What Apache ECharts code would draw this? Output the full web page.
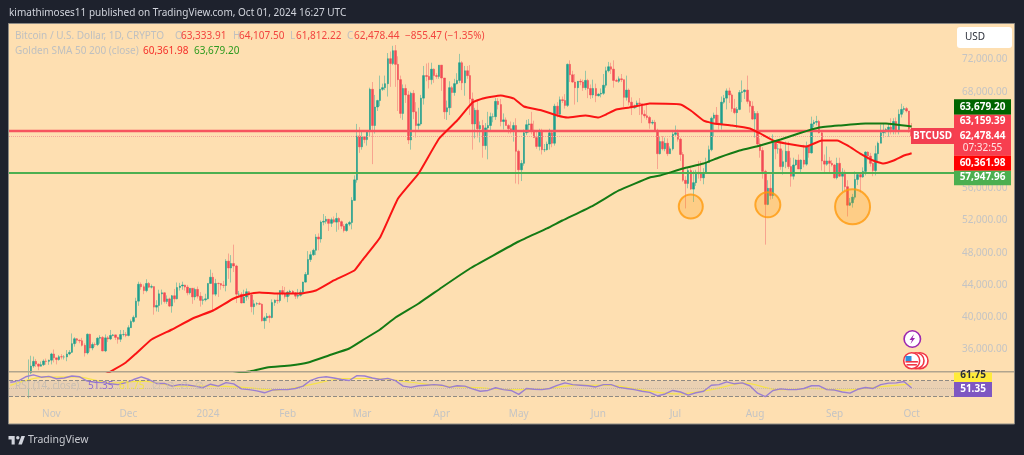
<!DOCTYPE html>
<html>
<head>
<meta charset="utf-8">
<style>
  html, body { margin: 0; background: #1e222d; }
  #chart { width: 1024px; height: 455px; filter: blur(0.35px); }
</style>
<script src="https://cdn.jsdelivr.net/npm/echarts@6/dist/echarts.min.js"></script>
</head>
<body>
<div id="chart"></div>
<script>
// prices are in thousands of USD
const firstDay = '2023-10-16'
const dayCount = 368
const firstCandle = 7 // 2023-10-23, earlier candles sit below the pane

const tickDates = ['2023-11-01', '2023-12-01', '2024-01-01', '2024-02-01', '2024-03-01', '2024-04-01', '2024-05-01', '2024-06-01', '2024-07-01', '2024-08-01', '2024-09-01', '2024-10-01']
const tickNames = ['Nov', 'Dec', '2024', 'Feb', 'Mar', 'Apr', 'May', 'Jun', 'Jul', 'Aug', 'Sep', 'Oct']
const priceTicks = [36, 40, 44, 48, 52, 56, 60, 64, 68, 72]

const opens = [
  29.99, 33.09, 33.92, 34.5, 34.16, 33.9, 34.09, 34.54, 34.5,
  34.65, 35.42, 34.94, 34.73, 35.08, 35.05, 35.05, 35.42, 35.62, 36.7, 37.31, 37.13, 37.06, 36.49, 35.55, 37.87, 36.16, 36.6, 36.58, 37.38, 37.47, 35.8, 37.42, 37.29, 37.72, 37.79, 37.48, 37.25, 37.83, 37.85,
  37.72, 38.69, 39.46, 39.97, 41.98, 44.08, 43.77, 43.29, 44.18, 43.72, 43.79, 41.24, 41.45, 42.89, 43.02, 41.94, 42.26, 41.37, 42.65, 42.27, 43.67, 43.86, 43.99, 43.73, 43.02, 43.58, 42.51, 43.44, 42.6, 42.08, 42.15,
  42.27, 44.18, 44.95, 42.85, 44.18, 44.16, 43.97, 43.93, 46.95, 46.1, 46.65, 46.35, 42.85, 42.85, 41.75, 42.5, 43.15, 42.75, 41.3, 41.65, 41.68, 41.6, 39.55, 39.9, 40.1, 39.95, 41.8, 42.1, 42.05, 43.3, 42.95,
  42.55, 43.1, 43.2, 43.0, 42.6, 42.7, 43.1, 44.35, 45.3, 47.15, 47.75, 48.3, 49.95, 49.7, 51.8, 51.9, 52.15, 51.65, 52.1, 51.8, 52.25, 51.85, 51.3, 50.75, 51.55, 51.75, 54.5, 57.05, 62.5,
  61.15, 62.4, 62.05, 63.15, 68.3, 63.8, 66.1, 66.9, 68.3, 68.5, 69.0, 72.1, 71.5, 73.1, 71.4, 69.5, 65.3, 68.4, 67.6, 62.0, 67.8, 65.5, 63.8, 64.0, 67.2, 70.0, 69.9, 69.5, 70.8, 70.0, 69.9,
  71.3, 69.7, 65.5, 66.0, 68.5, 67.9, 69.0, 69.4, 71.6, 69.1, 70.6, 70.0, 67.1, 64.0, 65.7, 63.4, 63.8, 61.3, 63.5, 63.8, 64.9, 64.9, 66.8, 66.4, 64.3, 64.5, 63.8, 63.4, 63.1, 63.8,
  60.6, 58.3, 59.1, 62.9, 63.9, 64.0, 63.2, 62.3, 61.2, 63.1, 60.8, 60.8, 61.5, 62.9, 61.6, 66.2, 65.2, 67.0, 66.9, 66.3, 71.4, 70.1, 69.2, 68.5, 69.3, 69.2, 68.5, 69.4, 68.4, 67.6, 68.4,
  67.5, 67.7, 67.8, 68.8, 70.6, 71.1, 70.8, 69.4, 69.3, 69.6, 69.5, 67.3, 68.2, 66.7, 66.0, 66.2, 66.6, 66.5, 65.2, 65.0, 64.8, 64.1, 64.2, 63.2, 60.3, 61.8, 60.9, 61.6, 60.3, 60.9,
  62.7, 62.9, 62.1, 60.2, 57.0, 56.6, 58.2, 55.9, 56.7, 58.0, 57.8, 57.3, 57.9, 59.2, 60.8, 64.7, 65.1, 64.1, 63.9, 66.7, 67.2, 68.1, 67.6, 65.9, 65.4, 65.8, 67.9, 68.0, 68.2, 66.8, 66.2,
  64.6, 65.3, 61.5, 60.7, 58.1, 54.0, 56.0, 55.1, 61.7, 60.9, 60.9, 58.7, 59.3, 60.6, 58.7, 57.5, 58.9, 59.5, 58.4, 59.5, 59.0, 61.2, 60.4, 64.0, 64.2, 64.3, 62.9, 59.4, 59.0, 59.4, 59.1,
  58.9, 57.3, 59.1, 57.5, 58.0, 56.2, 53.9, 54.2, 54.9, 57.1, 57.7, 57.4, 58.1, 60.5, 60.0, 59.1, 58.2, 60.3, 61.6, 62.9, 63.2, 63.3, 63.6, 63.3, 64.3, 63.1, 65.2, 65.8, 65.9, 65.6,
  63.33
]
const closes = [
  33.09, 33.92, 34.5, 34.16, 33.9, 34.09, 34.54, 34.5, 34.65,
  35.42, 34.94, 34.73, 35.08, 35.05, 35.05, 35.42, 35.62, 36.7, 37.31, 37.13, 37.06, 36.49, 35.55, 37.87, 36.16, 36.6, 36.58, 37.38, 37.47, 35.8, 37.42, 37.29, 37.72, 37.79, 37.48, 37.25, 37.83, 37.85, 37.72,
  38.69, 39.46, 39.97, 41.98, 44.08, 43.77, 43.29, 44.18, 43.72, 43.79, 41.24, 41.45, 42.89, 43.02, 41.94, 42.26, 41.37, 42.65, 42.27, 43.67, 43.86, 43.99, 43.73, 43.02, 43.58, 42.51, 43.44, 42.6, 42.08, 42.15, 42.27,
  44.18, 44.95, 42.85, 44.18, 44.16, 43.97, 43.93, 46.95, 46.1, 46.65, 46.35, 42.85, 42.85, 41.75, 42.5, 43.15, 42.75, 41.3, 41.65, 41.68, 41.6, 39.55, 39.9, 40.1, 39.95, 41.8, 42.1, 42.05, 43.3, 42.95, 42.55,
  43.1, 43.2, 43.0, 42.6, 42.7, 43.1, 44.35, 45.3, 47.15, 47.75, 48.3, 49.95, 49.7, 51.8, 51.9, 52.15, 51.65, 52.1, 51.8, 52.25, 51.85, 51.3, 50.75, 51.55, 51.75, 54.5, 57.05, 62.5, 61.15,
  62.4, 62.05, 63.15, 68.3, 63.8, 66.1, 66.9, 68.3, 68.5, 69.0, 72.1, 71.5, 73.1, 71.4, 69.5, 65.3, 68.4, 67.6, 62.0, 67.8, 65.5, 63.8, 64.0, 67.2, 70.0, 69.9, 69.5, 70.8, 70.0, 69.9, 71.3,
  69.7, 65.5, 66.0, 68.5, 67.9, 69.0, 69.4, 71.6, 69.1, 70.6, 70.0, 67.1, 64.0, 65.7, 63.4, 63.8, 61.3, 63.5, 63.8, 64.9, 64.9, 66.8, 66.4, 64.3, 64.5, 63.8, 63.4, 63.1, 63.8, 60.6,
  58.3, 59.1, 62.9, 63.9, 64.0, 63.2, 62.3, 61.2, 63.1, 60.8, 60.8, 61.5, 62.9, 61.6, 66.2, 65.2, 67.0, 66.9, 66.3, 71.4, 70.1, 69.2, 68.5, 69.3, 69.2, 68.5, 69.4, 68.4, 67.6, 68.4, 67.5,
  67.7, 67.8, 68.8, 70.6, 71.1, 70.8, 69.4, 69.3, 69.6, 69.5, 67.3, 68.2, 66.7, 66.0, 66.2, 66.6, 66.5, 65.2, 65.0, 64.8, 64.1, 64.2, 63.2, 60.3, 61.8, 60.9, 61.6, 60.3, 60.9, 62.7,
  62.9, 62.1, 60.2, 57.0, 56.6, 58.2, 55.9, 56.7, 58.0, 57.8, 57.3, 57.9, 59.2, 60.8, 64.7, 65.1, 64.1, 63.9, 66.7, 67.2, 68.1, 67.6, 65.9, 65.4, 65.8, 67.9, 68.0, 68.2, 66.8, 66.2, 64.6,
  65.3, 61.5, 60.7, 58.1, 54.0, 56.0, 55.1, 61.7, 60.9, 60.9, 58.7, 59.3, 60.6, 58.7, 57.5, 58.9, 59.5, 58.4, 59.5, 59.0, 61.2, 60.4, 64.0, 64.2, 64.3, 62.9, 59.4, 59.0, 59.4, 59.1, 58.9,
  57.3, 59.1, 57.5, 58.0, 56.2, 53.9, 54.2, 54.9, 57.1, 57.7, 57.4, 58.1, 60.5, 60.0, 59.1, 58.2, 60.3, 61.6, 62.9, 63.2, 63.3, 63.6, 63.3, 64.3, 63.1, 65.2, 65.8, 65.9, 65.6, 63.33,
  62.48
]
const highs = [
  34.74, 35.2, 35.1, 34.8, 34.25, 34.48, 34.75, 34.85, 34.72,
  35.57, 35.98, 34.94, 35.28, 35.4, 35.28, 35.9, 35.9, 37.97, 37.5, 37.4, 37.22, 37.42, 36.75, 37.97, 37.93, 36.85, 36.85, 37.5, 37.75, 37.65, 37.85, 37.65, 38.4, 37.9, 37.82, 37.55, 38.4, 38.4, 38.15,
  38.98, 39.7, 40.2, 42.4, 44.4, 44.3, 44.05, 44.7, 44.35, 44.05, 43.8, 42.1, 43.4, 43.42, 43.08, 42.7, 42.42, 42.75, 43.5, 44.3, 44.25, 44.4, 44.0, 44.0, 43.55, 43.6, 43.65, 43.8, 43.1, 42.6, 42.9,
  44.2, 45.9, 45.5, 44.75, 44.3, 44.2, 44.5, 47.2, 47.9, 47.7, 49.0, 46.5, 43.25, 43.1, 43.4, 43.55, 43.2, 42.9, 42.15, 41.85, 41.9, 41.7, 40.1, 40.5, 40.3, 42.2, 42.2, 42.85, 43.3, 43.85, 43.75,
  43.25, 43.4, 43.35, 43.1, 43.5, 43.4, 44.4, 45.6, 48.2, 48.15, 48.5, 50.3, 50.4, 52.0, 52.8, 52.55, 52.2, 52.35, 52.5, 52.95, 52.4, 52.0, 51.55, 51.7, 51.95, 54.9, 57.6, 64.0, 63.6,
  63.2, 62.4, 63.2, 68.5, 69.2, 67.6, 67.0, 70.0, 69.0, 70.0, 72.8, 73.0, 73.7, 73.8, 72.4, 70.0, 68.9, 68.9, 68.1, 68.0, 68.2, 66.7, 66.0, 67.6, 71.2, 71.5, 71.6, 71.6, 70.9, 70.3, 71.3,
  71.3, 69.7, 66.9, 69.3, 68.7, 69.6, 70.3, 72.7, 71.8, 71.2, 71.2, 71.3, 67.9, 66.0, 66.9, 64.3, 64.5, 64.1, 65.5, 65.4, 65.3, 67.2, 67.2, 67.1, 65.3, 64.8, 64.0, 64.3, 64.2, 64.7,
  60.8, 59.5, 63.3, 64.5, 64.6, 65.5, 64.4, 63.0, 63.4, 63.4, 61.5, 61.8, 63.4, 63.1, 66.5, 66.7, 67.4, 67.4, 67.7, 71.5, 71.9, 70.6, 70.2, 69.3, 69.6, 69.5, 70.6, 69.6, 68.9, 69.5, 69.0,
  67.8, 68.4, 70.2, 71.1, 71.7, 71.6, 71.9, 69.6, 69.9, 70.2, 69.5, 70.0, 68.4, 67.3, 66.4, 66.9, 67.2, 66.5, 65.7, 66.4, 65.0, 64.5, 64.5, 63.4, 62.4, 62.5, 62.3, 62.2, 61.2, 63.0,
  63.8, 63.3, 62.3, 60.5, 57.5, 58.5, 58.5, 58.2, 58.3, 59.4, 59.4, 58.5, 59.8, 61.3, 64.9, 65.4, 66.1, 65.1, 67.4, 67.6, 68.4, 68.5, 67.8, 67.1, 66.1, 68.2, 69.4, 68.3, 70.0, 67.0, 66.8,
  65.6, 65.6, 62.2, 61.1, 58.3, 57.0, 57.7, 62.7, 61.8, 61.5, 61.8, 60.7, 61.8, 61.8, 59.8, 59.8, 59.6, 60.2, 59.6, 61.4, 61.8, 61.4, 64.9, 64.5, 65.0, 64.5, 63.2, 60.2, 61.2, 59.9, 59.5,
  59.0, 59.8, 59.8, 58.5, 58.3, 57.0, 54.8, 55.3, 58.1, 58.0, 58.0, 58.6, 60.6, 60.6, 60.4, 59.2, 61.3, 61.8, 63.9, 64.1, 63.5, 64.0, 64.7, 64.7, 64.8, 65.8, 66.5, 66.2, 66.1, 65.6,
  64.11
]
const lows = [
  29.92, 32.9, 33.7, 33.8, 33.4, 33.88, 33.93, 34.08, 34.07,
  34.12, 34.37, 34.12, 34.59, 34.75, 34.73, 34.52, 35.26, 35.54, 36.33, 36.75, 36.75, 36.35, 35.1, 35.36, 35.68, 35.88, 36.3, 36.4, 36.7, 35.75, 35.65, 36.9, 37.15, 37.62, 37.15, 36.7, 36.9, 37.6, 37.5,
  37.6, 38.65, 39.3, 39.96, 41.4, 43.4, 42.85, 43.08, 43.6, 43.56, 40.3, 40.7, 40.65, 41.55, 41.7, 41.65, 41.25, 40.55, 41.8, 42.2, 43.3, 43.4, 43.3, 42.7, 42.8, 41.65, 42.1, 42.3, 41.3, 41.55, 41.95,
  42.2, 44.15, 40.75, 42.6, 42.5, 43.4, 43.6, 43.2, 44.75, 44.3, 45.6, 41.75, 42.45, 41.7, 41.75, 42.05, 42.2, 40.6, 40.3, 41.45, 41.5, 39.45, 38.55, 39.5, 39.3, 39.85, 41.4, 41.65, 41.8, 42.7, 42.3,
  41.85, 42.6, 42.9, 42.25, 42.3, 42.55, 42.8, 44.3, 45.25, 46.85, 47.6, 47.7, 48.3, 49.25, 51.4, 51.6, 50.7, 51.2, 51.7, 50.6, 50.85, 50.95, 50.5, 50.6, 51.3, 50.9, 54.45, 56.7, 60.4,
  60.8, 61.6, 61.3, 62.4, 59.0, 62.8, 65.6, 66.2, 68.1, 68.2, 67.4, 68.6, 71.3, 68.6, 65.6, 64.7, 64.5, 66.6, 61.5, 60.8, 64.6, 62.3, 63.3, 63.8, 66.4, 69.3, 68.4, 68.9, 69.1, 69.6, 69.6,
  68.1, 64.6, 64.5, 65.1, 66.0, 67.5, 68.9, 69.1, 68.2, 67.5, 69.6, 65.1, 60.8, 62.2, 62.3, 61.7, 59.8, 60.8, 59.6, 63.1, 64.2, 64.5, 65.8, 63.7, 63.3, 63.8, 62.8, 62.8, 61.8, 56.6,
  56.5, 56.9, 58.8, 62.6, 62.9, 62.7, 62.3, 60.9, 60.7, 60.2, 60.5, 60.7, 60.8, 61.1, 61.3, 64.8, 65.1, 66.6, 65.9, 66.1, 69.2, 69.1, 66.4, 66.7, 68.8, 68.1, 68.2, 67.2, 67.1, 67.2, 66.7,
  67.4, 67.3, 67.6, 68.5, 70.4, 70.2, 68.5, 69.2, 69.1, 69.2, 66.1, 66.9, 66.3, 65.1, 65.9, 66.0, 65.1, 64.1, 64.7, 64.5, 63.4, 63.9, 63.2, 58.4, 60.2, 60.7, 60.6, 60.0, 60.3, 60.7,
  62.5, 61.8, 59.4, 56.8, 53.5, 56.0, 55.8, 54.3, 56.3, 57.2, 56.9, 56.5, 57.8, 59.2, 60.6, 62.4, 63.9, 63.3, 63.3, 66.5, 65.8, 66.6, 65.5, 65.2, 63.5, 65.7, 66.7, 67.1, 66.5, 65.4, 64.5,
  62.3, 61.3, 59.8, 57.2, 49.0, 53.9, 54.6, 54.7, 59.6, 60.3, 58.3, 57.7, 58.5, 58.4, 56.2, 57.1, 58.8, 58.4, 57.9, 58.6, 58.8, 59.8, 60.3, 63.6, 63.8, 62.8, 58.2, 57.9, 58.8, 57.8, 58.7,
  57.2, 57.1, 57.4, 55.6, 55.7, 52.5, 53.8, 53.6, 54.6, 56.4, 55.5, 57.3, 57.6, 59.5, 58.7, 57.5, 57.6, 59.2, 61.6, 62.3, 62.8, 62.4, 62.7, 62.7, 62.7, 62.7, 64.8, 65.4, 65.4, 62.9,
  61.81
]

const sma50Dates = ['2023-11-20', '2023-11-24', '2023-11-30', '2023-12-04', '2023-12-10', '2023-12-18', '2023-12-26', '2024-01-03', '2024-01-11', '2024-01-16', '2024-01-21', '2024-01-28', '2024-02-06', '2024-02-12', '2024-02-19', '2024-02-27', '2024-03-01', '2024-03-08', '2024-03-15', '2024-03-23', '2024-03-31', '2024-04-07', '2024-04-13', '2024-04-17', '2024-04-24', '2024-04-29', '2024-05-03', '2024-05-10', '2024-05-16', '2024-05-20', '2024-05-27', '2024-06-01', '2024-06-04', '2024-06-08', '2024-06-13', '2024-06-17', '2024-06-21', '2024-07-03', '2024-07-07', '2024-07-12', '2024-07-16', '2024-07-23', '2024-07-30', '2024-08-03', '2024-08-08', '2024-08-13', '2024-08-21', '2024-08-27', '2024-09-02', '2024-09-06', '2024-09-11', '2024-09-16', '2024-09-20', '2024-09-24', '2024-09-28', '2024-10-01']
const sma50Values = [32.6, 33.24, 34.36, 35.48, 37.22, 38.46, 39.83, 40.82, 42.31, 42.81, 43.06, 42.93, 42.93, 43.3, 44.55, 45.79, 47.03, 49.89, 54.73, 57.84, 62.19, 64.42, 66.66, 67.16, 67.53, 67.16, 66.16, 65.66, 65.04, 64.79, 65.04, 64.79, 65.17, 65.79, 66.04, 66.29, 66.53, 66.41, 65.66, 64.42, 64.05, 63.8, 63.43, 62.81, 61.94, 61.57, 61.19, 61.94, 61.94, 61.32, 60.32, 59.45, 59.08, 59.45, 60.07, 60.36]

const sma200Dates = ['2024-01-10', '2024-01-17', '2024-01-24', '2024-02-02', '2024-02-09', '2024-02-17', '2024-02-25', '2024-03-01', '2024-03-08', '2024-03-14', '2024-03-23', '2024-04-01', '2024-04-12', '2024-04-21', '2024-05-01', '2024-05-12', '2024-05-18', '2024-05-30', '2024-06-09', '2024-06-21', '2024-06-25', '2024-07-04', '2024-07-12', '2024-07-18', '2024-07-26', '2024-08-03', '2024-08-11', '2024-08-18', '2024-08-26', '2024-09-03', '2024-09-13', '2024-09-21', '2024-10-01']
const sma200Values = [32.9, 33.24, 33.74, 33.99, 34.36, 35.23, 36.1, 37.09, 38.46, 39.95, 41.69, 43.68, 46.04, 47.65, 49.39, 51.01, 52.0, 53.86, 55.73, 57.34, 57.59, 58.46, 59.08, 59.83, 60.7, 61.32, 62.06, 62.81, 63.55, 63.8, 64.05, 64.05, 63.68]

// one RSI reading every 3 days from firstDay, one RSI average reading every 13 days
const rsiStep = 3
const rsiValues = [66, 69, 80, 85, 79, 81, 75, 77, 82, 80, 69, 66, 65, 62, 60, 65, 73, 80, 73, 63, 63, 56, 60, 59, 56, 52, 61, 56, 65, 62, 49, 47, 44, 39, 46, 47, 47, 50, 56, 71, 78, 80, 77, 73, 70.5, 83, 82, 77, 73, 76, 70, 56, 53, 57, 58.5, 60, 58.5, 53, 57, 56, 49, 43, 45, 52, 47, 45, 35, 50, 48, 47, 50, 58, 64.5, 60, 58.5, 57, 54, 60, 60, 53, 50, 47, 43, 40, 31, 36, 45, 41, 33, 39, 43, 58.5, 60, 67, 62, 64.5, 57, 38, 29, 45, 49, 47, 47, 50, 57, 57, 47, 46, 41, 38, 48, 52.5, 50, 60, 63.7, 64.5, 68, 51.35]
const rsiAvgStep = 13
const rsiAvgValues = [58, 79, 80, 64, 69, 56, 56, 53, 46, 60, 75.6, 75.6, 66, 56, 52, 47, 49, 58.5, 58, 45, 36, 47, 64, 47, 50, 46, 54, 61.75]

const levelResistance = 63.15939
const levelSupport = 57.94796
const levelLast = 62.47844

const circleDates = ['2024-07-07', '2024-08-06', '2024-09-08']
const circleValues = [53.74, 53.95, 53.7]
const circleSizes = [24, 25, 35]

const headerText = 'kimathimoses11 published on TradingView.com, Oct 01, 2024 16:27 UTC'
const badgeNames = ['63,679.20', '63,159.39', '62,478.44', '07:32:55', '60,361.98', '57,947.96']

const categories = []
for (let i = 0; i < dayCount; i++) {
  categories.push(new Date(Date.parse(firstDay) + i * 86400000).toISOString().slice(0, 10))
}

const fontName = '"Noto Sans", sans-serif'
const upColor = '#1f9e8c'
const downColor = '#f24a55'
const upWick = '#97c5a6'
const downWick = '#f8a48f'
const labelGrey = '#c4c4c4'

function txt(x, y, text, fill, opt) {
  return {
    type: 'text', x: x, y: y, z: 100,
    style: Object.assign({ text: text, fill: fill, font: '10px ' + fontName, textVerticalAlign: 'middle' }, opt || {})
  }
}
function box(x, y, w, h, fill, r) {
  return { type: 'rect', z: 90, shape: { x: x, y: y, width: w, height: h, r: r || 0 }, style: { fill: fill } }
}
function ring(cx, cy, r, stroke) {
  return { type: 'circle', z: 95, shape: { cx: cx, cy: cy, r: r }, style: { fill: '#fff', stroke: stroke, lineWidth: 1.6 } }
}

const boldWhite = { font: 'bold 10px ' + fontName, textAlign: 'center' }

const overlay = [
  { type: 'rect', z: -1, shape: { x: 8.5, y: 23.5, width: 1006, height: 400.5 }, style: { fill: '#fedfb1', stroke: '#8c8a84', lineWidth: 1 } },
  { type: 'line', z: 90, shape: { x1: 9, y1: 371.7, x2: 1014, y2: 371.7 }, style: { stroke: '#b0a48e', lineWidth: 1.4 } },
  txt(9, 13, headerText, '#d1d4dc'),

  txt(15, 36, 'Bitcoin / U.S. Dollar, 1D, CRYPTO', '#bfc0c0'),
  txt(175, 36, 'O', '#bfc0c0'), txt(181, 36, '63,333.91', '#f2443f'),
  txt(233, 36, 'H', '#bfc0c0'), txt(239, 36, '64,107.50', '#f2443f'),
  txt(290, 36, 'L', '#bfc0c0'), txt(296, 36, '61,812.22', '#f2443f'),
  txt(347, 36, 'C', '#bfc0c0'), txt(354, 36, '62,478.44', '#f2443f'),
  txt(405, 36, '\u2212855.47 (\u22121.35%)', '#f2443f'),
  txt(15, 51, 'Golden SMA 50 200 (close)', '#bfc0c0'),
  txt(143, 51, '60,361.98', '#f5302a'),
  txt(194, 51, '63,679.20', '#2c9a1e'),

  box(957, 27, 55, 21, '#ffffff', 3),
  txt(965, 37.5, 'USD', '#2a2e39'),

  box(911, 128, 43, 16, '#f23f50'),
  txt(932.5, 136, 'BTCUSD', '#fff', boldWhite),
  box(954, 99.3, 57, 15.4, '#006400'),
  txt(982.5, 107, badgeNames[0], '#fff', boldWhite),
  box(954, 114.7, 57, 41, '#f73f50'),
  txt(982.5, 121, badgeNames[1], '#fff', boldWhite),
  txt(982.5, 136, badgeNames[2], '#fff', boldWhite),
  txt(982.5, 148, badgeNames[3], '#ffe3e3', { textAlign: 'center' }),
  box(954, 155.7, 57, 15, '#ff0000'),
  txt(982.5, 163, badgeNames[4], '#fff', boldWhite),
  box(954, 170.7, 57, 14.5, '#4caf50'),
  txt(982.5, 177.5, badgeNames[5], '#fff', boldWhite),

  box(954, 372.5, 38, 9.5, '#ffeb3b'),
  txt(973, 375.5, '61.75', '#2a2e39', boldWhite),
  box(954, 382, 38, 15, '#7e57c2'),
  txt(973, 389, '51.35', '#fff', boldWhite),

  txt(15, 386, 'RSI (14, close)', '#c9bfb3'),
  txt(88, 386, '51.35', '#8f6fd0'),
  txt(119, 386, '61.75', '#f5e642'),
  txt(152, 386, '\u2205  \u2205  \u2205  \u2205', '#c9bfb3'),

  // event icons
  ring(912.3, 339, 8.2, '#9c27b0'),
  { type: 'polygon', z: 96, shape: { points: [[914, 334], [909.5, 340], [912, 340], [910.5, 344], [915, 338], [912.5, 338]] }, style: { fill: '#9c27b0' } },
  ring(920, 360.7, 8, '#f23645'),
  ring(916, 360.7, 8, '#f23645'),
  ring(911.7, 360.7, 8, '#f23645'),
  { type: 'rect', z: 96, shape: { x: 905.5, y: 361, width: 12.4, height: 1.6 }, style: { fill: '#f23645' } },
  { type: 'rect', z: 96, shape: { x: 906.5, y: 364, width: 10.4, height: 1.6 }, style: { fill: '#f23645' } },
  { type: 'rect', z: 97, shape: { x: 905.5, y: 356, width: 6, height: 5 }, style: { fill: '#2f8fdc' } },

  // logo
  { type: 'polygon', z: 100, shape: { points: [[8.5, 436], [14.7, 436], [14.7, 444.5], [11.6, 444.5], [11.6, 439.4], [8.5, 439.4]] }, style: { fill: '#d1d4dc' } },
  { type: 'polygon', z: 100, shape: { points: [[18.3, 444.5], [21.9, 444.5], [25, 436], [21.4, 436]] }, style: { fill: '#d1d4dc' } },
  { type: 'circle', z: 100, shape: { cx: 17.8, cy: 437.7, r: 1.7 }, style: { fill: '#d1d4dc' } },
  txt(28, 440.5, 'TradingView', '#c8cad0', { font: '10.5px ' + fontName })
]

const chart = echarts.init(document.getElementById('chart'), null, { renderer: 'canvas' })
chart.setOption({
  animation: false,
  backgroundColor: '#1e222d',
  textStyle: { fontFamily: fontName },
  graphic: overlay,
  grid: [
    { left: 9, width: 945, top: 24, height: 348 },
    { left: 9, width: 945, top: 372, height: 36 }
  ],
  xAxis: [
    { type: 'category', gridIndex: 0, data: categories, show: false },
    {
      type: 'category',
      gridIndex: 1,
      data: categories,
      axisLine: { show: false },
      axisTick: { show: false },
      axisLabel: {
        color: labelGrey,
        fontSize: 10,
        margin: 1,
        interval: (i, v) => tickDates.includes(v),
        formatter: v => tickNames[tickDates.indexOf(v)]
      }
    }
  ],
  yAxis: [
    {
      type: 'value',
      gridIndex: 0,
      position: 'right',
      min: 33.18,
      max: 76.41,
      axisLine: { show: false },
      axisTick: { show: false },
      splitLine: { show: false },
      axisLabel: {
        customValues: priceTicks,
        color: labelGrey,
        fontSize: 10,
        margin: 8,
        formatter: v => (v * 1000).toLocaleString('en-US', { minimumFractionDigits: 2 })
      }
    },
    { type: 'value', gridIndex: 1, min: 0, max: 92.3, show: false }
  ],
  series: [
    {
      type: 'candlestick',
      name: 'wicks',
      barWidth: 1,
      encode: { x: 0, y: [1, 2, 3, 4] },
      itemStyle: { color: upWick, color0: downWick, borderColor: upWick, borderColor0: downWick, borderWidth: 1 },
      data: closes.map((c, i) => [firstCandle + i, opens[i], c, lows[i], highs[i]]),
      z: 2
    },
    {
      type: 'candlestick',
      name: 'bodies',
      barWidth: 2,
      encode: { x: 0, y: [1, 2, 3, 4] },
      itemStyle: { color: upColor, color0: downColor, borderColor: upColor, borderColor0: downColor, borderWidth: 0.5 },
      data: closes.map((c, i) => [firstCandle + i, opens[i], c, Math.min(opens[i], c), Math.max(opens[i], c)]),
      z: 3,
      markLine: {
        silent: true,
        symbol: 'none',
        label: { show: false },
        data: [
          { yAxis: levelResistance, lineStyle: { color: '#f7545f', width: 2.4, type: 'solid' } },
          { yAxis: levelSupport, lineStyle: { color: '#4caf50', width: 2.2, type: 'solid' } },
          { yAxis: levelLast, lineStyle: { color: '#f4a39a', width: 1, type: 'dotted' } }
        ]
      }
    },
    {
      type: 'line',
      name: 'SMA 50',
      smooth: 0.12,
      showSymbol: false,
      lineStyle: { color: '#fa1414', width: 2 },
      data: sma50Dates.map((d, i) => [d, sma50Values[i]]),
      z: 6
    },
    {
      type: 'line',
      name: 'SMA 200',
      smooth: 0.12,
      showSymbol: false,
      lineStyle: { color: '#147a14', width: 2 },
      data: sma200Dates.map((d, i) => [d, sma200Values[i]]),
      z: 6
    },
    {
      type: 'scatter',
      name: 'lows',
      silent: true,
      data: circleDates.map((d, i) => [d, circleValues[i]]),
      symbolSize: (v, p) => circleSizes[p.dataIndex],
      itemStyle: { color: 'rgba(255,152,0,0.3)', borderColor: '#ff9a0c', borderWidth: 2 },
      z: 7
    },
    {
      type: 'line',
      name: 'RSI average',
      xAxisIndex: 1,
      yAxisIndex: 1,
      showSymbol: false,
      smooth: 0.3,
      lineStyle: { color: '#f7e34a', width: 1.2 },
      data: rsiAvgValues.map((v, i) => [i * rsiAvgStep, v]),
      z: 4
    },
    {
      type: 'line',
      name: 'RSI',
      xAxisIndex: 1,
      yAxisIndex: 1,
      showSymbol: false,
      lineStyle: { color: '#9b7fd0', width: 1.4 },
      data: rsiValues.map((v, i) => [i * rsiStep, v]),
      z: 5,
      markArea: {
        silent: true,
        itemStyle: { color: '#ead0b2' },
        data: [[{ yAxis: 30 }, { yAxis: 70 }]]
      },
      markLine: {
        silent: true,
        symbol: 'none',
        label: { show: false },
        lineStyle: { color: '#8f8a84', width: 1, type: 'dashed' },
        data: [
          { yAxis: 70 },
          { yAxis: 30 },
          { yAxis: 50, lineStyle: { color: '#c9b9a5', type: 'dotted' } }
        ]
      }
    }
  ]
})
</script>
</body>
</html>
